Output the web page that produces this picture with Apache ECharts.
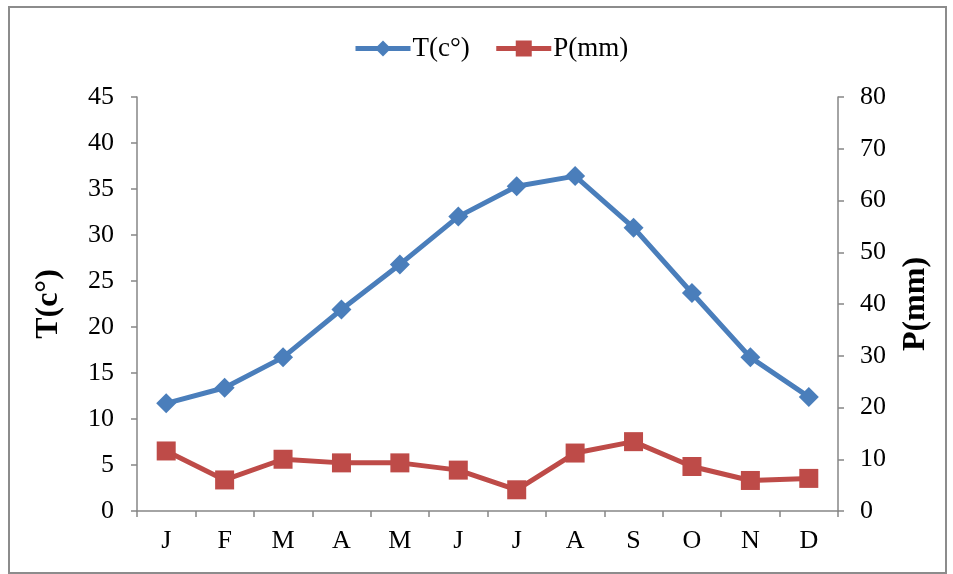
<!DOCTYPE html>
<html><head><meta charset="utf-8">
<script src="https://cdn.jsdelivr.net/npm/echarts@6/dist/echarts.min.js"></script>
<style>html,body{margin:0;padding:0;background:#fff}#c{width:953px;height:574px}</style>
</head><body><div id="c"></div>
<script>
const months = ['J','F','M','A','M','J','J','A','S','O','N','D'];
const tempValues = [11.7, 13.4, 16.7, 21.9, 26.8, 32.0, 35.3, 36.4, 30.8, 23.7, 16.7, 12.4];
const precipValues = [11.6, 6.0, 10.0, 9.3, 9.3, 7.9, 4.1, 11.2, 13.4, 8.6, 5.9, 6.3];
const tempTicks = {min: 0, max: 45, interval: 5};
const precipTicks = {min: 0, max: 80, interval: 10};

const font = 'Liberation Serif';
const axisGray = '#868686';
const chart = echarts.init(document.getElementById('c'));
chart.setOption({
  animation: false,
  textStyle: {fontFamily: font},
  graphic: [{type: 'rect', shape: {x: 9, y: 7, width: 937, height: 566}, style: {fill: 'none', stroke: '#8c8c8c', lineWidth: 2}}],
  legend: {
    top: 30, left: 348, itemWidth: 55, itemHeight: 20, itemGap: 24,
    textStyle: {fontFamily: font, fontSize: 27, color: '#000', padding: [0, 0, 0, -3]},
    lineStyle: {width: 5},
    data: [{name: 'T(c°)'}, {name: 'P(mm)'}]
  },
  grid: {left: 137, right: 115, top: 97, bottom: 63},
  xAxis: {
    type: 'category', data: months, boundaryGap: true,
    axisLine: {lineStyle: {color: axisGray, width: 1.5}},
    axisTick: {show: true, length: 6, alignWithLabel: false, lineStyle: {color: axisGray, width: 1.5}},
    axisLabel: {fontFamily: font, fontSize: 26, color: '#000', margin: 17}
  },
  yAxis: [{
    type: 'value', position: 'left', min: tempTicks.min, max: tempTicks.max, interval: tempTicks.interval,
    name: 'T(c°)', nameLocation: 'middle', nameGap: 72, nameRotate: 90,
    nameTextStyle: {fontFamily: font, fontSize: 32, fontWeight: 'bold', color: '#000'},
    axisLine: {show: true, lineStyle: {color: axisGray, width: 1.5}},
    axisTick: {show: true, length: 6, lineStyle: {color: axisGray, width: 1.5}},
    axisLabel: {fontFamily: font, fontSize: 26, color: '#000', margin: 23},
    splitLine: {show: false}
  }, {
    type: 'value', position: 'right', min: precipTicks.min, max: precipTicks.max, interval: precipTicks.interval,
    name: 'P(mm)', nameLocation: 'middle', nameGap: 62, nameRotate: 90,
    nameTextStyle: {fontFamily: font, fontSize: 32, fontWeight: 'bold', color: '#000'},
    axisLine: {show: true, lineStyle: {color: axisGray, width: 1.5}},
    axisTick: {show: true, length: 6, lineStyle: {color: axisGray, width: 1.5}},
    axisLabel: {fontFamily: font, fontSize: 26, color: '#000', margin: 22},
    splitLine: {show: false}
  }],
  series: [{
    name: 'T(c°)', type: 'line', yAxisIndex: 0, data: tempValues,
    symbol: 'diamond', symbolSize: 20,
    lineStyle: {color: '#4A7EBB', width: 5},
    itemStyle: {color: '#4A7EBB'}
  }, {
    name: 'P(mm)', type: 'line', yAxisIndex: 1, data: precipValues,
    symbol: 'rect', symbolSize: 19,
    lineStyle: {color: '#BE4B48', width: 5},
    itemStyle: {color: '#BE4B48'}
  }]
});
</script></body></html>
